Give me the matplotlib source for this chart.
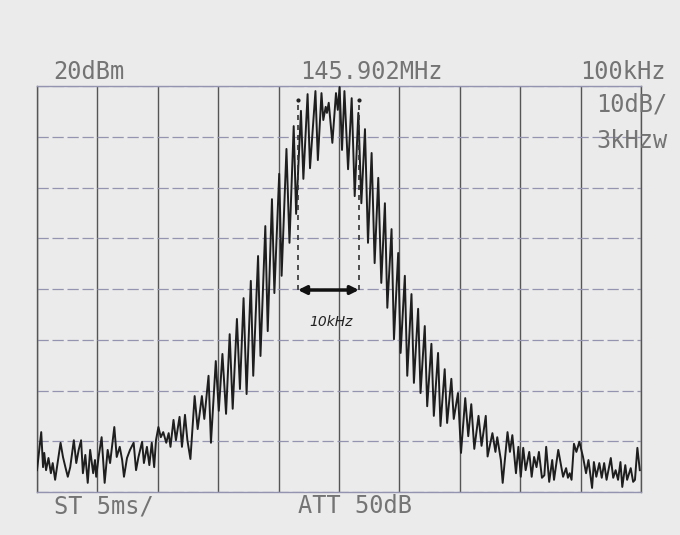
import matplotlib
matplotlib.use("Agg")
import matplotlib.pyplot as plt

# frequency offset from 145.902 MHz centre (kHz) and level (dBm)
freq_khz = [
    -50.0, -49.3, -49.0, -48.8, -48.5, -48.1, -47.7, -47.4, -47.0, -46.6,
    -46.1, -45.7, -45.3, -44.9, -44.5, -43.9, -43.5, -43.1, -42.7, -42.4,
    -42.0, -41.6, -41.2, -40.7, -40.4, -40.2, -39.8, -39.3, -38.8, -38.3,
    -37.9, -37.2, -36.8, -36.3, -35.9, -35.6, -35.1, -34.6, -34.0, -33.6,
    -33.2, -32.6, -32.3, -31.8, -31.4, -31.0, -30.6, -30.3, -29.9, -29.5,
    -29.1, -28.6, -28.2, -27.9, -27.4, -27.0, -26.4, -26.0, -25.5, -25.1,
    -24.6, -23.9, -23.4, -22.7, -22.3, -21.6, -21.2, -20.4, -19.9, -19.3,
    -18.7, -18.1, -17.6, -16.9, -16.4, -15.8, -15.3, -14.6, -14.2, -13.4,
    -13.0, -12.2, -11.8, -11.1, -10.7, -9.9, -9.5, -8.7, -8.2, -7.5,
    -7.1, -6.3, -5.9, -5.2, -4.8, -3.9, -3.5, -2.9, -2.6, -2.2,
    -2.0, -1.7, -1.1, -0.5, -0.2, 0.1, 0.5, 0.9, 1.5, 2.1,
    2.6, 3.2, 3.7, 4.3, 4.8, 5.4, 5.9, 6.5, 7.0, 7.6,
    8.0, 8.7, 9.1, 9.8, 10.2, 10.9, 11.3, 12.0, 12.4, 13.1,
    13.5, 14.2, 14.6, 15.3, 15.7, 16.4, 16.8, 17.5, 17.9, 18.6,
    19.0, 19.7, 20.2, 20.9, 21.4, 21.9, 22.4, 23.1, 23.6, 24.3,
    24.6, 25.4, 25.9, 26.2, 26.8, 27.1, 27.9, 28.3, 28.7, 29.3,
    29.7, 30.1, 30.5, 30.9, 31.5, 31.9, 32.3, 32.7, 33.1, 33.6,
    34.0, 34.3, 34.8, 35.3, 35.6, 36.3, 36.7, 37.1, 37.6, 37.9,
    38.2, 38.5, 38.9, 39.3, 39.8, 40.4, 40.9, 41.3, 41.9, 42.2,
    42.6, 43.1, 43.5, 43.9, 44.3, 45.0, 45.4, 45.8, 46.2, 46.6,
    46.9, 47.4, 47.7, 48.3, 48.7, 49.0, 49.4, 49.8,
]
level_dbm = [
    -55.7, -48.2, -55.1, -52.3, -55.7, -53.3, -56.3, -54.3, -57.6, -54.3,
    -50.3, -53.1, -55.1, -57.0, -55.1, -49.8, -54.3, -51.7, -49.8, -56.3,
    -52.7, -58.2, -51.7, -56.3, -53.7, -57.0, -53.1, -49.2, -58.2, -51.7,
    -54.3, -47.2, -53.1, -51.1, -53.7, -57.0, -53.3, -51.7, -50.3, -55.7,
    -53.1, -50.1, -54.3, -51.1, -54.7, -50.3, -55.1, -49.8, -47.2, -49.2,
    -48.2, -50.3, -48.4, -51.1, -45.8, -49.8, -45.2, -51.1, -44.8, -49.8,
    -53.5, -41.1, -47.6, -41.1, -45.6, -37.1, -50.3, -34.2, -44.0, -32.8,
    -44.6, -28.9, -43.6, -25.9, -39.7, -21.8, -40.7, -18.4, -37.1, -13.5,
    -33.2, -7.6, -28.3, -2.3, -20.8, 2.7, -17.4, 7.6, -10.9, 12.1,
    -5.2, 15.1, 1.7, 18.4, 3.8, 19.0, 5.4, 18.6, 13.3, 15.9,
    14.7, 16.7, 8.8, 18.6, 15.3, 19.8, 7.4, 19.0, 3.6, 17.6,
    -1.7, 14.7, -3.1, 11.5, -10.9, 6.8, -14.9, 1.9, -18.8, -3.1,
    -23.7, -8.2, -29.9, -12.9, -32.6, -17.4, -37.1, -21.0, -38.5, -23.9,
    -40.5, -27.3, -43.1, -30.8, -45.0, -32.6, -47.0, -35.8, -46.4, -37.7,
    -45.6, -40.5, -52.3, -41.5, -49.0, -42.7, -51.5, -45.0, -50.9, -45.0,
    -53.0, -48.4, -52.1, -49.2, -53.7, -58.2, -48.2, -52.1, -48.8, -56.3,
    -51.1, -57.0, -51.3, -55.7, -52.1, -57.0, -53.1, -55.1, -52.1, -57.2,
    -56.7, -51.1, -58.0, -53.7, -57.6, -51.7, -54.3, -57.0, -55.3, -57.2,
    -56.3, -57.6, -50.5, -52.1, -50.1, -53.1, -56.3, -53.7, -59.2, -54.1,
    -57.0, -54.3, -57.2, -54.3, -57.6, -53.3, -57.2, -55.7, -57.6, -54.1,
    -59.0, -54.7, -57.6, -55.3, -58.0, -57.6, -51.3, -55.7,
]

# 10 kHz bandwidth marker
marker_khz = [-6.8, 3.3]
marker_top = 17.2
marker_level = -20.2

bg = "#ebebeb"
txt_col = "#747474"

fig = plt.figure(figsize=(6.8, 5.35), dpi=100, facecolor=bg)
ax = fig.add_axes([37 / 680, 1 - 492 / 535, 604 / 680, 406 / 535])
ax.set_facecolor(bg)

ax.set_xlim(-50, 50)
ax.set_ylim(-60, 20)
ax.set_xticks(range(-50, 51, 10))
ax.set_yticks(range(-60, 21, 10))
ax.tick_params(length=0, labelbottom=False, labelleft=False)
ax.grid(axis="x", color="#555555", lw=1.0)
ax.grid(axis="y", color="#9494b0", lw=0.9, linestyle=(0, (9, 3)))
for side in ["left", "right"]:
    ax.spines[side].set_color("#555555")
    ax.spines[side].set_linewidth(1.0)
for side in ["top", "bottom"]:
    ax.spines[side].set_color("#9494b0")
    ax.spines[side].set_linewidth(1.0)

ax.plot(freq_khz, level_dbm, color="#1e1e1e", lw=1.4, zorder=3)

for f in marker_khz:
    ax.plot([f, f], [marker_level, marker_top], color="#333333", lw=1.2,
            linestyle=(0, (3, 3)), zorder=4)
ax.plot(marker_khz, [marker_top, marker_top], ".", color="#222222", ms=4, zorder=4)
ax.annotate("", xy=(marker_khz[0], marker_level), xytext=(marker_khz[1], marker_level),
            arrowprops=dict(arrowstyle="<|-|>", lw=2.5, color="#111111",
                            mutation_scale=12, shrinkA=0, shrinkB=0), zorder=5)
ax.text(sum(marker_khz) / 2 + 0.5, -26.6, "10kHz", fontsize=10, style="italic",
        color="#222222", ha="center", va="center")

mono = dict(family="DejaVu Sans Mono", fontsize=17, color=txt_col, va="center", ha="left")
fig.text(53 / 680, 1 - 72 / 535, "20dBm", **mono)
fig.text(300 / 680, 1 - 72 / 535, "145.902MHz", **mono)
fig.text(580 / 680, 1 - 72 / 535, "100kHz", **mono)
fig.text(596 / 680, 1 - 105 / 535, "10dB/", **mono)
fig.text(596 / 680, 1 - 141 / 535, "3kHzw", **mono)
fig.text(54 / 680, 1 - 506 / 535, "ST 5ms/", **mono)
fig.text(298 / 680, 1 - 506 / 535, "ATT 50dB", **mono)

fig.savefig("out.png", dpi=100, facecolor=bg)
